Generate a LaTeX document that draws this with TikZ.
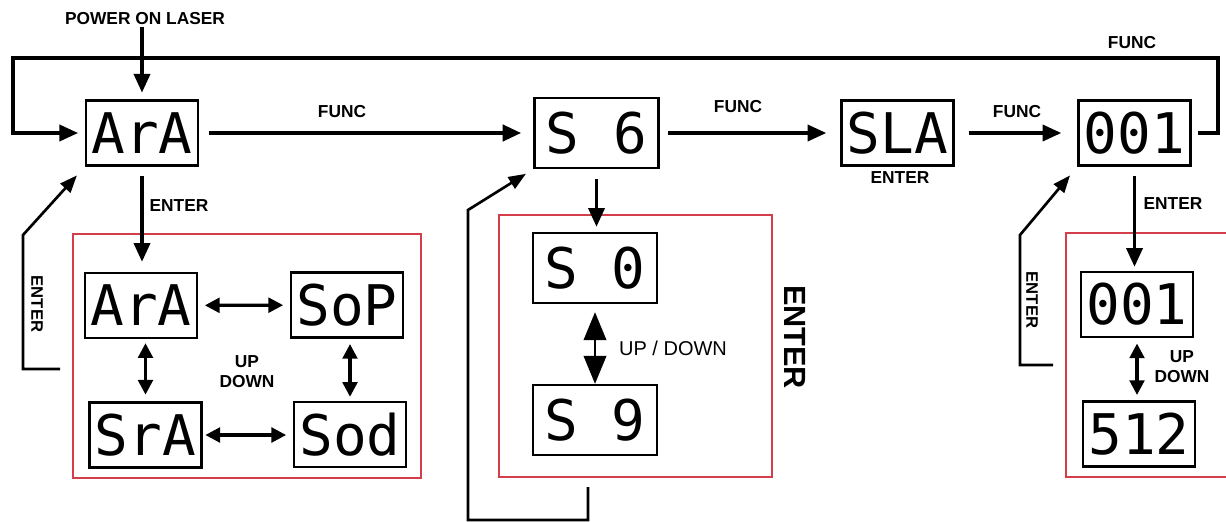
\documentclass[tikz,border=0pt]{standalone}
\usepackage{fontspec}
\setmainfont{Liberation Sans}
\newfontfamily\segfont{DejaVu Sans Mono}
\usetikzlibrary{arrows.meta}
\definecolor{boxred}{RGB}{212,62,74}

\tikzset{every picture/.style={line width=0.75pt}}
\tikzset{
  disp/.style={draw, line width=1.8pt, minimum width=84pt, minimum height=48.75pt, inner sep=0pt, font=\segfont\fontsize{42}{42}\selectfont},
  dispwide/.style={disp, minimum width=93pt, minimum height=52.5pt},
  grp/.style={draw=boxred, line width=1.5pt, inner sep=0pt},
  lbl/.style={inner sep=0.75pt, font=\fontsize{13}{15}\selectfont\bfseries, align=center},
  arr/.style={line width=2.6pt, -{Triangle[length=14pt,width=12pt]}},
  darr/.style={line width=2.4pt, {Triangle[length=11pt,width=11pt]}-{Triangle[length=11pt,width=11pt]}},
  back/.style={line width=2pt, -{Triangle[length=13pt,width=10pt]}},
}

\begin{document}
\begin{tikzpicture}[x=0.75pt,y=0.75pt,yscale=-1,xscale=1]
\useasboundingbox (0,0) rectangle (1226,521);
\clip (0,0) rectangle (1226,521);

%Shape: Rectangle groups
\draw (247,356) node (grpa) [grp, minimum width=261pt, minimum height=183pt] {};
\draw (635.5,346) node (grpb) [grp, minimum width=204.75pt, minimum height=196.5pt] {};
\draw (1158,355) node (grpc) [grp, minimum width=138pt, minimum height=183pt] {};

%Shape: Displays, top row
\draw (142,133) node (ara) [disp] {ArA};
\draw (596.5,133) node (s6) [dispwide] {S 6};
\draw (897.5,133) node (sla) [disp] {SLA};
\draw (1134.5,133) node (n001) [disp] {001};

%Shape: Displays, mode menu
\draw (141,305.5) node (ara2) [disp] {ArA};
\draw (347,305) node (sop) [disp] {SoP};
\draw (145.5,435) node (sra) [disp] {SrA};
\draw (350,434.5) node (sod) [disp] {Sod};

%Shape: Displays, speed menu
\draw (595,268) node (s0) [dispwide] {S 0};
\draw (595,420) node (s9) [dispwide] {S 9};

%Shape: Displays, address menu
\draw (1137,304.5) node (n001b) [disp] {001};
\draw (1139,434) node (n512) [disp] {512};

% Text Node
\draw (145,19) node (pwr) [lbl] {POWER ON LASER};
% Text Node
\draw (342,112) node (funca) [lbl] {FUNC};
% Text Node
\draw (738,107) node (funcb) [lbl] {FUNC};
% Text Node
\draw (1017,112) node (funcc) [lbl] {FUNC};
% Text Node
\draw (1132,43) node (functop) [lbl] {FUNC};
% Text Node
\draw (179,206) node (entera) [lbl] {ENTER};
% Text Node
\draw (900,178) node (entersla) [lbl] {ENTER};
% Text Node
\draw (1173,204) node (enterc) [lbl] {ENTER};
% Text Node
\draw (247,372) node (updowna) [lbl] {UP\\DOWN};
% Text Node
\draw (673,348) node (updownb) [inner sep=0.75pt, font=\fontsize{15}{17}\selectfont] {UP / DOWN};
% Text Node
\draw (1182,367) node (updownc) [lbl] {UP\\DOWN};
% Text Node
\draw (37,304) node (enterl) [lbl, rotate=-90, font=\fontsize{12.5}{14}\selectfont\bfseries] {ENTER};
% Text Node
\draw (1032,300) node (enterr) [lbl, rotate=-90, font=\fontsize{12.5}{14}\selectfont\bfseries] {ENTER};
% Text Node
\draw (795,337) node (enterbig) [lbl, rotate=-90, font=\fontsize{23}{26}\selectfont\bfseries] {ENTER};

%Straight Lines, FUNC chain
\draw [arr, shorten >=5pt] (pwr.south -| ara.north) -- (ara.north);
\draw [arr, line width=3.2pt, shorten <=7.5pt, shorten >=9pt] (ara) -- (s6);
\draw [arr, shorten <=6pt, shorten >=10.5pt] (s6) -- (sla);
\draw [arr, shorten <=10.5pt, shorten >=12pt] (sla) -- (n001);
\coordinate (loopr) at (1218,58);
\coordinate (loopl) at (13,58);
\draw [arr, shorten <=4.5pt, shorten >=5pt] (n001.east) -| (loopr) -- (loopl) |- (ara.west);

%Straight Lines, ENTER down
\draw [arr, shorten <=7pt, shorten >=7.5pt] (ara.south) -- (ara.south |- ara2.north);
\draw [arr, shorten <=7.5pt, shorten >=3.75pt] (s6.south) -- (s6.south |- s0.north);
\draw [arr, shorten <=7pt, shorten >=3pt] (n001.south) -- (n001.south |- n001b.north);

%Straight Lines, UP DOWN
\draw [darr, shorten <=5pt, shorten >=5pt] (ara2) -- (sop);
\draw [darr, shorten <=2pt, shorten >=5pt] (sra.east) -- (sra.east -| sod.west);
\draw [darr, shorten <=3pt, shorten >=5pt] (sra.north |- ara2.south) -- (sra.north);
\draw [darr, shorten <=4pt, shorten >=3pt] (sod.north |- sop.south) -- (sod.north);
\draw [line width=1.4pt, {Triangle[length=21pt,width=17pt]}-{Triangle[length=21pt,width=17pt]}, shorten <=6pt] (s0) -- (s9);
\draw [darr, shorten <=4pt, shorten >=4pt] (n001b.south) -- (n001b.south |- n512.north);

%Straight Lines, ENTER back
\coordinate (reta) at (60,369);
\draw [back, shorten >=8.8pt] (reta) -- ++(-37,0) -- ++(0,-134) -- (ara.south west);
\coordinate (retb) at (588,487);
\draw [back, shorten >=6.5pt] (retb) -- ++(0,33) -- ++(-120,0) -- ++(0,-310) -- (s6.south west);
\coordinate (retc) at (1053,365);
\draw [back, shorten >=8.5pt] (retc) -- ++(-33,0) -- ++(0,-130) -- (n001.south west);

\end{tikzpicture}
\end{document}
